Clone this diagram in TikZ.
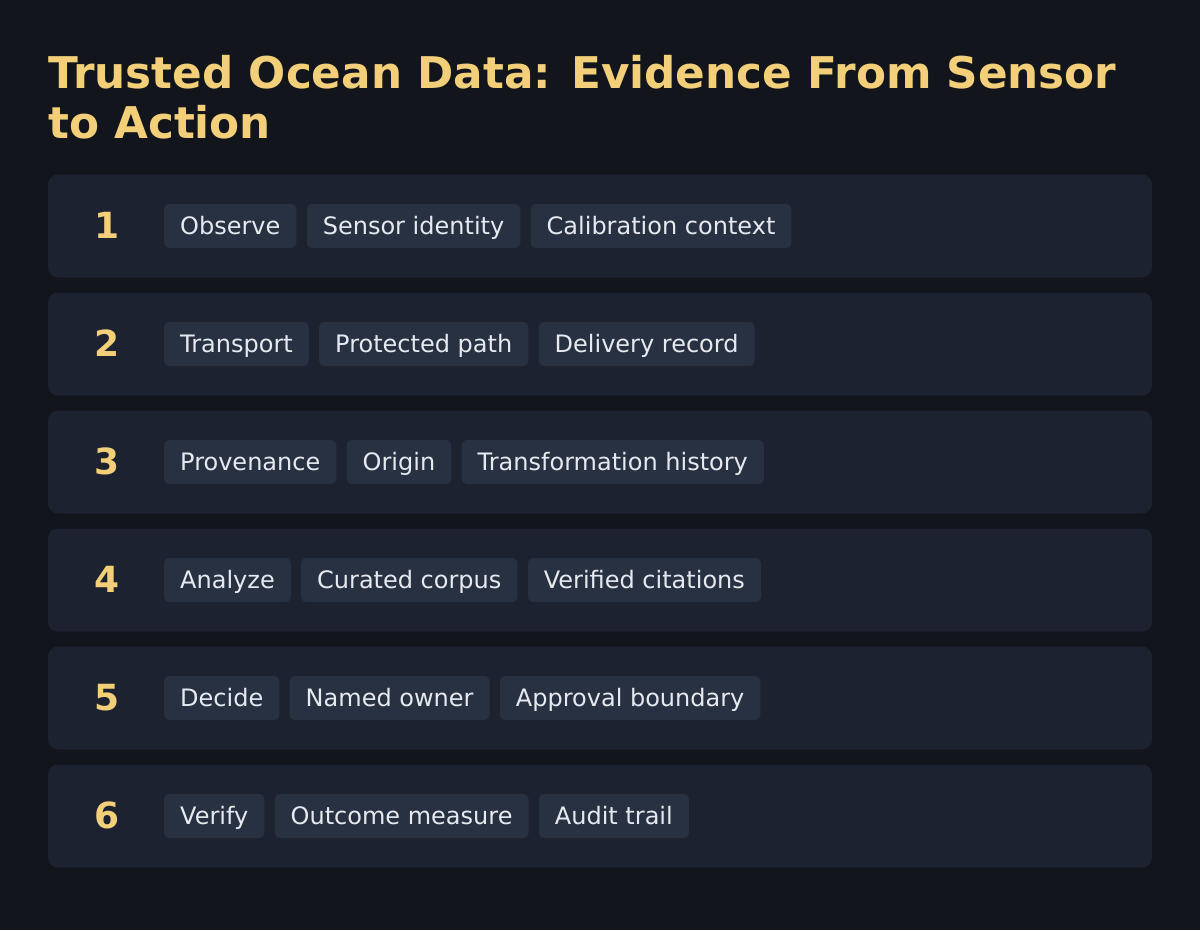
\documentclass[tikz,border=0pt]{standalone}
\usepackage{fontspec}
\setmainfont{DejaVu Sans}
\usetikzlibrary{positioning}

\definecolor{bgcol}{HTML}{12151C}
\definecolor{rowcol}{HTML}{1D2230}
\definecolor{chipcol}{HTML}{283141}
\definecolor{txtcol}{HTML}{E6EAF0}
\definecolor{gold}{HTML}{F2CF78}

\tikzset{
	row/.style={fill=rowcol, rounded corners=10pt, minimum width=1104pt, minimum height=103pt, inner sep=0pt},
	chip/.style={fill=chipcol, rounded corners=5pt, minimum height=44pt, inner xsep=16pt, inner ysep=0pt,
		text height=18pt, text depth=2pt,
		text=txtcol, font=\fontsize{24}{28}\selectfont, anchor=west},
	num/.style={text=gold, font=\bfseries\fontsize{36}{40}\selectfont, inner sep=0pt,
		text height=26pt, text depth=0pt},
}

\begin{document}
\begin{tikzpicture}[x=1pt, y=-1pt]

	\def\rowgap{118}
	\def\yone{226}

	% background
	\fill[bgcol] (0,0) rectangle (1200,930);
	\useasboundingbox (0,0) rectangle (1200,930);

	% title
	\node[anchor=north west, inner sep=0pt, align=left, text=gold,
		font=\bfseries\fontsize{43.7}{50}\selectfont] (title) at (48,55)
		{Trusted Ocean Data: Evidence From Sensor\\to Action};

	% rows
	\foreach \i/\a/\b/\c in {
		1/Observe/Sensor identity/Calibration context,
		2/Transport/Protected path/Delivery record,
		3/Provenance/Origin/Transformation history,
		4/Analyze/Curated corpus/Verified citations,
		5/Decide/Named owner/Approval boundary,
		6/Verify/Outcome measure/Audit trail}{
		\node[row] (r\i) at (600, {\yone+\rowgap*(\i-1)}) {};
		\node[num] (n\i) at (107, {\yone+\rowgap*(\i-1)-1}) {\i};
		\node[chip] (c\i a) at (164, {\yone+\rowgap*(\i-1)}) {\a};
		\node[chip, right=10pt of c\i a] (c\i b) {\b};
		\node[chip, right=10pt of c\i b] (c\i c) {\c};
	}

\end{tikzpicture}
\end{document}
